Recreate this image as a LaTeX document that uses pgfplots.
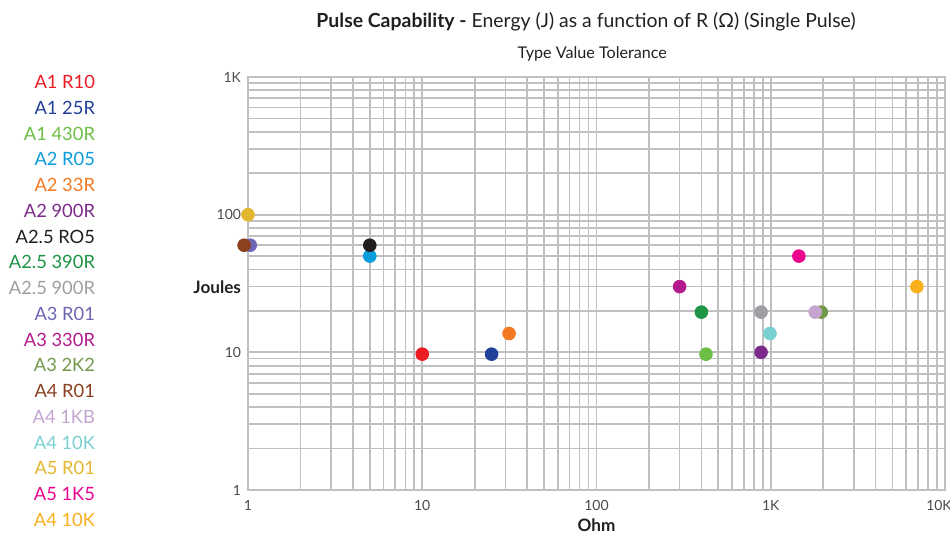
\documentclass[border=0pt]{standalone}
\usepackage{fontspec}
\setmainfont{Lato}
\usepackage{pgfplots}
\pgfplotsset{compat=1.18}

\definecolor{gridgray}{HTML}{BFBFC1}
\definecolor{tickgray}{HTML}{4A4A4A}
\definecolor{titlegray}{HTML}{231F20}
\definecolor{c1}{HTML}{ED1C24}
\definecolor{c2}{HTML}{21409A}
\definecolor{c3}{HTML}{6CBE45}
\definecolor{c4}{HTML}{0B9DDB}
\definecolor{c5}{HTML}{F47920}
\definecolor{c6}{HTML}{7D2B8B}
\definecolor{c7}{HTML}{231F20}
\definecolor{c8}{HTML}{1E9447}
\definecolor{c9}{HTML}{9D9FA2}
\definecolor{c10}{HTML}{6C66B4}
\definecolor{c11}{HTML}{B31B8C}
\definecolor{c12}{HTML}{72994A}
\definecolor{c13}{HTML}{8B4120}
\definecolor{c14}{HTML}{C4A5D0}
\definecolor{c15}{HTML}{7ACFD0}
\definecolor{c16}{HTML}{E3B62F}
\definecolor{c17}{HTML}{EC058D}
\definecolor{c18}{HTML}{FAAF1D}

\begin{document}
\begin{tikzpicture}
\path[use as bounding box] (-124bp,-21.5bp) rectangle (351bp,245bp);
\begin{axis}[
    at={(0,0)}, anchor=south west,
    scale only axis,
    width=348.5bp, height=206.5bp,
    xmode=log, ymode=log,
    xmin=1, xmax=10000,
    ymin=1, ymax=1000,
    clip=false,
    grid=both,
    major grid style={draw=gridgray, line width=0.85bp},
    minor grid style={draw=gridgray, line width=0.85bp},
    axis line style={draw=gridgray, line width=0.85bp},
    major tick length=0pt, minor tick length=0pt,
    xtick={1,10,100,1000,10000},
    xticklabels={1,10,100,1K,\hspace*{-6bp}10K},
    ytick={1,10,100,1000},
    yticklabels={1,10,100,1K},
    minor xtick={2,3,...,9,20,30,...,90,200,300,...,900,2000,3000,...,9000},
    minor ytick={2,3,...,9,20,30,...,90,200,300,...,900},
    tick label style={font=\fontsize{7}{8}\selectfont, text=tickgray},
    xticklabel style={yshift=-1.5bp},
    xlabel={\textbf{Ohm}},
    xlabel style={font=\fontsize{8.6}{9}\selectfont, text=titlegray, at={(axis description cs:0.5,-0.085)}, anchor=center},
    ylabel={\textbf{Joules}},
    ylabel style={font=\fontsize{8.6}{9}\selectfont, text=titlegray, rotate=-90, at={(axis description cs:-0.01,0.49)}, anchor=east, xshift=3.5bp},
    legend style={at={(axis description cs:-0.2195,1.019)}, anchor=north east,
        draw=none, fill=none, inner sep=0pt, outer sep=0pt, row sep=0pt,
        font=\fontsize{9.2}{10}\selectfont,
        nodes={inner sep=0pt, text height=9.7bp, text depth=3.18bp}},
    legend cell align=right,
    legend image code/.code={},
    mark size=3.2pt,
]
\addplot[only marks, mark=*, c1, mark options={draw=none}] coordinates {(10,9.7)};
\addlegendentry{\textcolor{c1}{A1 R10}}
\addplot[only marks, mark=*, c2, mark options={draw=none}] coordinates {(25,9.7)};
\addlegendentry{\textcolor{c2}{A1 25R}}
\addplot[only marks, mark=*, c3, mark options={draw=none}] coordinates {(425,9.7)};
\addlegendentry{\textcolor{c3}{A1 430R}}
\addplot[only marks, mark=*, c4, mark options={draw=none}] coordinates {(5,50)};
\addlegendentry{\textcolor{c4}{A2 R05}}
\addplot[only marks, mark=*, c5, mark options={draw=none}] coordinates {(31.5,13.7)};
\addlegendentry{\textcolor{c5}{A2 33R}}
\addplot[only marks, mark=*, c6, mark options={draw=none}] coordinates {(880,10)};
\addlegendentry{\textcolor{c6}{A2 900R}}
\addplot[only marks, mark=*, c7, mark options={draw=none}] coordinates {(5,60)};
\addlegendentry{\textcolor{c7}{A2.5 RO5}}
\addplot[only marks, mark=*, c8, mark options={draw=none}] coordinates {(400,19.6)};
\addlegendentry{\textcolor{c8}{A2.5 390R}}
\addplot[only marks, mark=*, c9, mark options={draw=none}] coordinates {(880,19.6)};
\addlegendentry{\textcolor{c9}{A2.5 900R}}
\addplot[only marks, mark=*, c10, mark options={draw=none}] coordinates {(1.03,60)};
\addlegendentry{\textcolor{c10}{A3 R01}}
\addplot[only marks, mark=*, c11, mark options={draw=none}] coordinates {(300,30)};
\addlegendentry{\textcolor{c11}{A3 330R}}
\addplot[only marks, mark=*, c12, mark options={draw=none}] coordinates {(1950,19.6)};
\addlegendentry{\textcolor{c12}{A3 2K2}}
\addplot[only marks, mark=*, c13, mark options={draw=none}] coordinates {(0.95,60)};
\addlegendentry{\textcolor{c13}{A4 R01}}
\addplot[only marks, mark=*, c14, mark options={draw=none}] coordinates {(1800,19.6)};
\addlegendentry{\textcolor{c14}{A4 1KB}}
\addplot[only marks, mark=*, c15, mark options={draw=none}] coordinates {(990,13.7)};
\addlegendentry{\textcolor{c15}{A4 10K}}
\addplot[only marks, mark=*, c16, mark options={draw=none}] coordinates {(1,100)};
\addlegendentry{\textcolor{c16}{A5 R01}}
\addplot[only marks, mark=*, c17, mark options={draw=none}] coordinates {(1450,50)};
\addlegendentry{\textcolor{c17}{A5 1K5}}
\addplot[only marks, mark=*, c18, mark options={draw=none}] coordinates {(6900,30)};
\addlegendentry{\textcolor{c18}{A4 10K}}

\node[font=\fontsize{9.75}{11}\selectfont, text=titlegray] at (axis description cs:0.485,1.133)
    {\textbf{Pulse Capability -} Energy (J) as a function of R (Ω) (Single Pulse)};
\node[font=\fontsize{8.1}{9}\selectfont, text=titlegray] at (axis description cs:0.494,1.0555)
    {Type Value Tolerance};
\end{axis}
\end{tikzpicture}
\end{document}
